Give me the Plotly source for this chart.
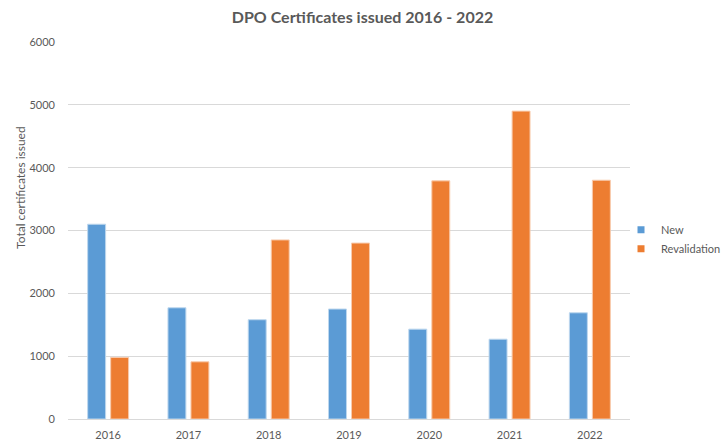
import plotly.graph_objects as go

years = ["2016", "2017", "2018", "2019", "2020", "2021", "2022"]
new_certs = [3100, 1770, 1580, 1750, 1430, 1270, 1690]
revalidation = [980, 910, 2850, 2800, 3790, 4900, 3800]
y_ticks = [0, 1000, 2000, 3000, 4000, 5000, 6000]

FONT = "Lato, 'Liberation Sans Narrow', 'Open Sans', sans-serif"
GREY = "#595959"
BLUE = "#5B9BD5"
ORANGE = "#ED7D31"

fig = go.Figure()
fig.add_trace(go.Bar(x=years, y=new_certs, name="New", showlegend=False,
                     marker=dict(color=BLUE, line=dict(color="#BDD7EE", width=1))))
fig.add_trace(go.Bar(x=years, y=revalidation, name="Revalidation", showlegend=False,
                     marker=dict(color=ORANGE, line=dict(color="#F8CBAD", width=1))))
# legend entries with small square keys
fig.add_trace(go.Scatter(x=[None], y=[None], mode="markers", name="New",
                         marker=dict(symbol="square", size=7, color=BLUE)))
fig.add_trace(go.Scatter(x=[None], y=[None], mode="markers", name="Revalidation",
                         marker=dict(symbol="square", size=7, color=ORANGE)))

fig.update_layout(
    width=725, height=446,
    margin=dict(l=68, r=95, t=42, b=27, autoexpand=False),
    paper_bgcolor="white", plot_bgcolor="white",
    barmode="group", bargap=0.427, bargroupgap=0.22,
    title=dict(text="<b>DPO Certificates issued 2016 - 2022</b>", x=0.5, xanchor="center",
               y=0.962, yanchor="middle", font=dict(family=FONT, size=16, color=GREY)),
    font=dict(family=FONT, size=11, color=GREY),
    legend=dict(x=0.984, xanchor="left", y=0.477, yanchor="middle",
                font=dict(family=FONT, size=11, color=GREY),
                itemwidth=30, tracegroupgap=2, bgcolor="rgba(0,0,0,0)"),
    xaxis=dict(showgrid=False, showline=False, ticks="", ticklabelstandoff=8,
               tickfont=dict(size=11, color=GREY)),
    yaxis=dict(range=[0, 6000], tickvals=y_ticks, showgrid=True, gridcolor="#D9D9D9",
               gridwidth=1, zeroline=True, zerolinecolor="#D9D9D9", zerolinewidth=1,
               showline=False, ticks="", ticklabelstandoff=12,
               tickfont=dict(size=11, color=GREY)),
    annotations=[dict(text="Total certificates issued", textangle=-90,
                      xref="paper", yref="paper", x=-0.0836, y=0.613,
                      xanchor="center", yanchor="middle", showarrow=False,
                      font=dict(family=FONT, size=12, color=GREY))],
)

fig.write_html("out.html", config={"displayModeBar": False},
               post_script="document.body.style.margin='0';document.body.style.overflow='hidden';")
